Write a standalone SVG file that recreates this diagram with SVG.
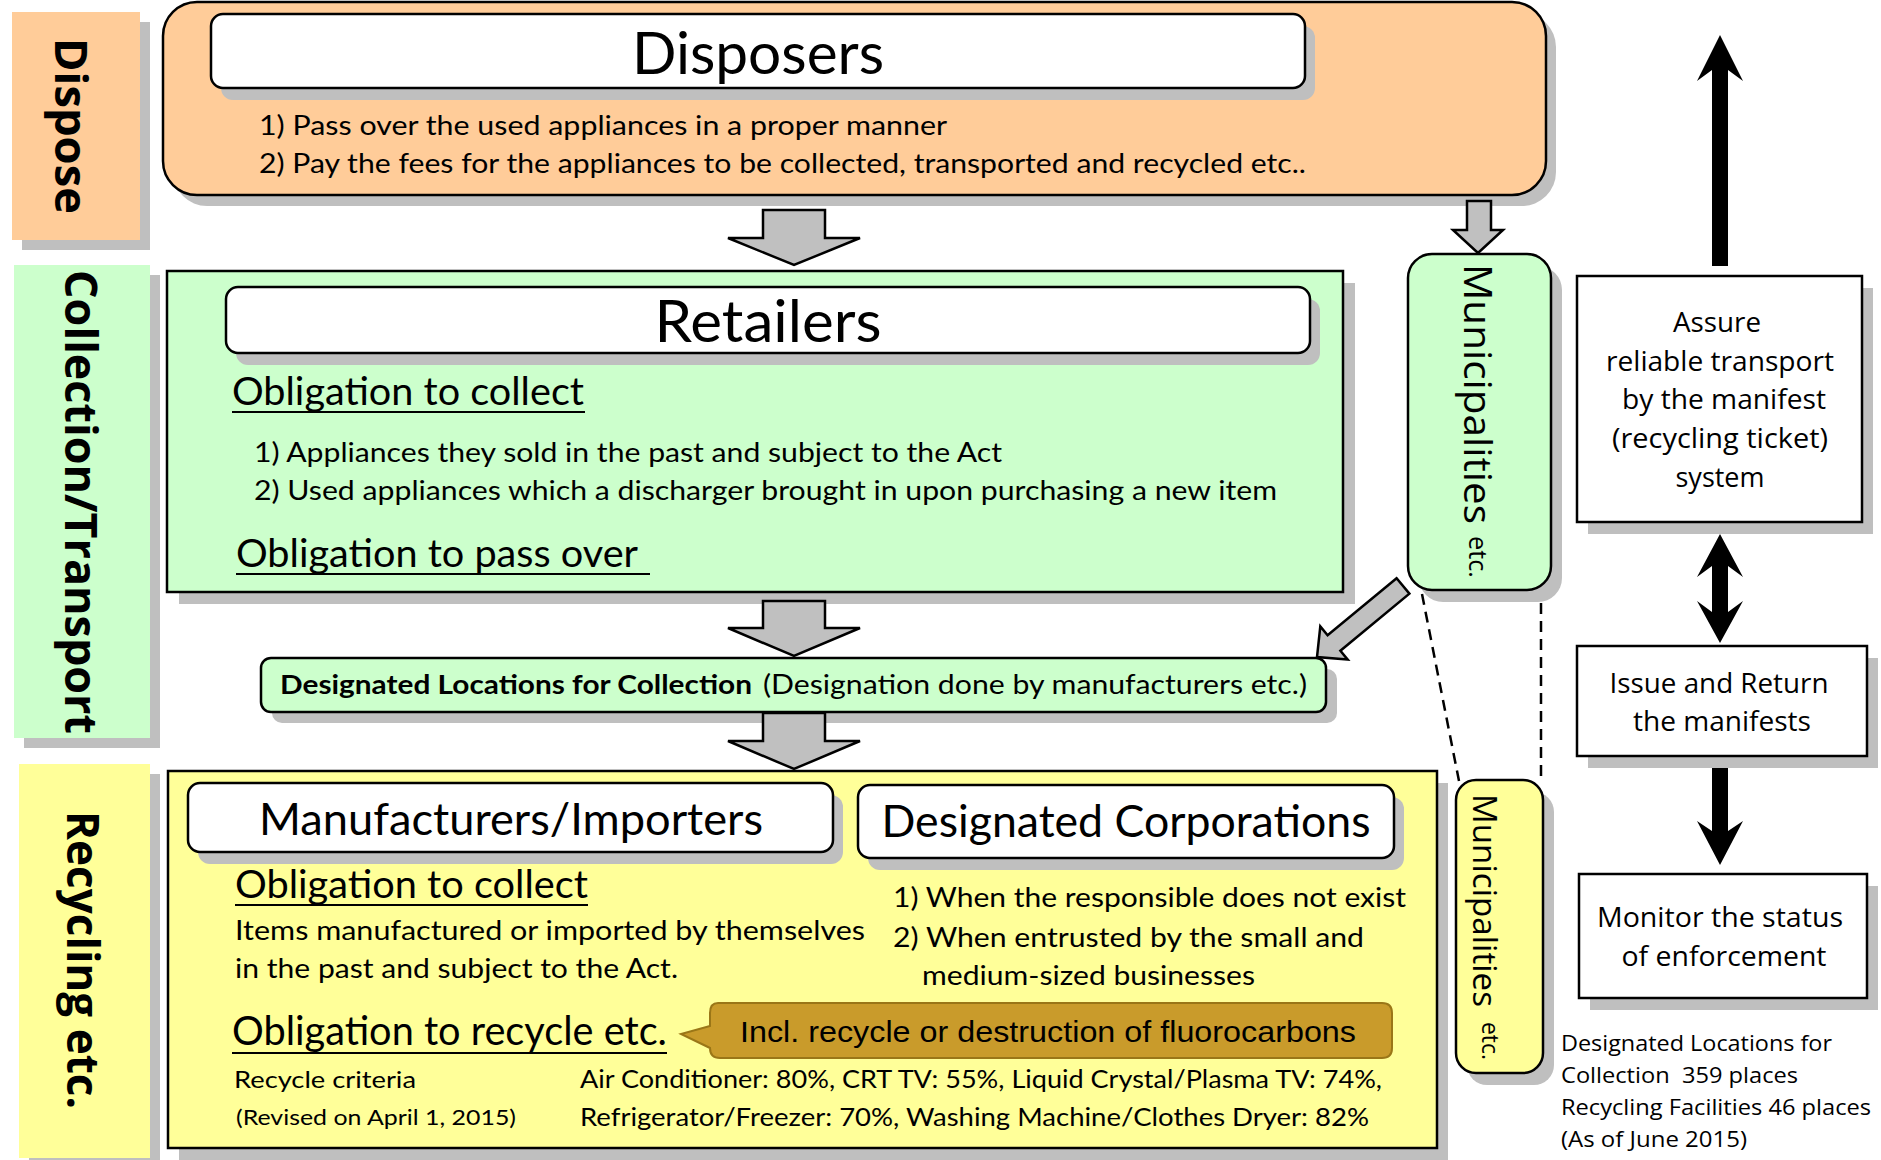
<svg xmlns="http://www.w3.org/2000/svg" width="1881" height="1160" viewBox="0 0 1881 1160">
<style>
.sh{fill:#BFBFBF}
.k{stroke:#000;stroke-width:2.5}
.t{font-family:Lato,"Open Sans",sans-serif;fill:#000}
.o{font-family:"Open Sans","DejaVu Sans",sans-serif;fill:#000}
.v{font-family:"Open Sans","DejaVu Sans",sans-serif;font-weight:bold;font-size:44px;fill:#000}
.ga{fill:#C0C0C0;stroke:#000;stroke-width:2.5;stroke-linejoin:miter}
.ul{stroke:#000;stroke-width:2}
.dash{stroke:#000;stroke-width:2.5;stroke-dasharray:11 7;fill:none}
.ba{fill:#000}
</style>
<rect width="1881" height="1160" fill="#fff"/>

<g id="label-dispose">
<rect class="sh" x="22" y="22" width="128" height="228"/>
<rect x="12" y="12" width="128" height="228" fill="#FFCC99"/>
<text class="v" transform="translate(70,126) rotate(90)" x="0" y="15" text-anchor="middle" textLength="176" lengthAdjust="spacingAndGlyphs">Dispose</text>
</g>
<g id="label-collection">
<rect class="sh" x="24" y="275" width="136" height="473"/>
<rect x="14" y="265" width="136" height="473" fill="#CCFFCC"/>
<text class="v" transform="translate(80,502) rotate(90)" x="0" y="15" text-anchor="middle" textLength="464" lengthAdjust="spacingAndGlyphs">Collection/Transport</text>
</g>
<g id="label-recycling">
<rect class="sh" x="29" y="774" width="131" height="394"/>
<rect x="19" y="764" width="131" height="394" fill="#FFFF99"/>
<text class="v" transform="translate(82,960) rotate(90)" x="0" y="15" text-anchor="middle" textLength="298" lengthAdjust="spacingAndGlyphs">Recycling etc.</text>
</g>

<g id="disposers">
<rect class="sh" x="173" y="13" width="1383" height="193" rx="34"/>
<rect class="k" x="163" y="2" width="1383" height="193" rx="34" fill="#FFCC99"/>
<rect class="sh" x="221" y="26" width="1094" height="74" rx="12"/>
<rect class="k" x="211" y="14" width="1094" height="74" rx="12" fill="#fff"/>
<text class="t" x="758" y="74" font-size="59" text-anchor="middle" textLength="252" lengthAdjust="spacingAndGlyphs">Disposers</text>
<text class="t" x="259" y="135" font-size="27" textLength="688" lengthAdjust="spacingAndGlyphs">1) Pass over the used appliances in a proper manner</text>
<text class="t" x="259" y="173" font-size="27" textLength="1047" lengthAdjust="spacingAndGlyphs">2) Pay the fees for the appliances to be collected, transported and recycled etc..</text>
</g>

<g id="retailers">
<rect class="sh" x="179" y="283" width="1176" height="321"/>
<rect class="k" x="167" y="271" width="1176" height="321" fill="#CCFFCC"/>
<rect class="sh" x="236" y="299" width="1084" height="66" rx="12"/>
<rect class="k" x="226" y="287" width="1084" height="66" rx="12" fill="#fff"/>
<text class="t" x="768" y="342" font-size="59" text-anchor="middle" textLength="227" lengthAdjust="spacingAndGlyphs">Retailers</text>
<text class="t" x="232" y="405" font-size="39" textLength="352" lengthAdjust="spacingAndGlyphs">Obligation to collect</text>
<line class="ul" x1="232" y1="412" x2="585" y2="412"/>
<text class="t" x="254" y="462" font-size="27" textLength="748" lengthAdjust="spacingAndGlyphs">1) Appliances they sold in the past and subject to the Act</text>
<text class="t" x="254" y="500" font-size="27" textLength="1023" lengthAdjust="spacingAndGlyphs">2) Used appliances which a discharger brought in upon purchasing a new item</text>
<text class="t" x="236" y="567" font-size="39" textLength="402" lengthAdjust="spacingAndGlyphs">Obligation to pass over</text>
<line class="ul" x1="236" y1="574" x2="650" y2="574"/>
</g>

<g id="designated-locations">
<rect class="sh" x="272" y="669" width="1065" height="54" rx="10"/>
<rect class="k" x="261" y="658" width="1065" height="54" rx="10" fill="#CCFFCC"/>
<text class="t" x="280" y="694" font-size="27" font-weight="bold" textLength="472" lengthAdjust="spacingAndGlyphs">Designated Locations for Collection</text>
<text class="t" x="763" y="694" font-size="27" textLength="544" lengthAdjust="spacingAndGlyphs">(Designation done by manufacturers etc.)</text>
</g>

<g id="municipalities-green">
<rect class="sh" x="1419" y="266" width="143" height="336" rx="24"/>
<rect class="k" x="1408" y="254" width="143" height="336" rx="24" fill="#CCFFCC"/>
<text class="o" transform="translate(1464,264) rotate(90)" x="0" y="0" font-size="39" textLength="260" lengthAdjust="spacingAndGlyphs">Municipalities</text>
<text class="o" transform="translate(1469,536) rotate(90)" x="0" y="0" font-size="25" textLength="42" lengthAdjust="spacingAndGlyphs">etc.</text>
</g>

<g id="recycling">
<rect class="sh" x="179" y="783" width="1269" height="377"/>
<rect class="k" x="168" y="771" width="1269" height="377" fill="#FFFF99"/>
<rect class="sh" x="198" y="795" width="645" height="69" rx="12"/>
<rect class="k" x="188" y="783" width="645" height="69" rx="12" fill="#fff"/>
<text class="t" x="511" y="835" font-size="44" text-anchor="middle" textLength="504" lengthAdjust="spacingAndGlyphs">Manufacturers/Importers</text>
<rect class="sh" x="868" y="797" width="536" height="73" rx="12"/>
<rect class="k" x="858" y="785" width="536" height="73" rx="12" fill="#fff"/>
<text class="t" x="1126" y="837" font-size="44" text-anchor="middle" textLength="489" lengthAdjust="spacingAndGlyphs">Designated Corporations</text>
<text class="t" x="235" y="898" font-size="39" textLength="353" lengthAdjust="spacingAndGlyphs">Obligation to collect</text>
<line class="ul" x1="235" y1="905" x2="588" y2="905"/>
<text class="t" x="235" y="940" font-size="27" textLength="630" lengthAdjust="spacingAndGlyphs">Items manufactured or imported by themselves</text>
<text class="t" x="235" y="978" font-size="27" textLength="443" lengthAdjust="spacingAndGlyphs">in the past and subject to the Act.</text>
<text class="t" x="893" y="907" font-size="27" textLength="513" lengthAdjust="spacingAndGlyphs">1) When the responsible does not exist</text>
<text class="t" x="893" y="947" font-size="27" textLength="471" lengthAdjust="spacingAndGlyphs">2) When entrusted by the small and</text>
<text class="t" x="922" y="985" font-size="27" textLength="333" lengthAdjust="spacingAndGlyphs">medium-sized businesses</text>
<text class="t" x="232" y="1045" font-size="40" textLength="435" lengthAdjust="spacingAndGlyphs">Obligation to recycle etc.</text>
<line class="ul" x1="232" y1="1053" x2="667" y2="1053"/>
<path d="M718,1003 H1382 Q1392,1003 1392,1013 V1048 Q1392,1058 1382,1058 H720 Q710,1058 710,1048 L681,1034 L710,1026 V1013 Q710,1003 718,1003 Z" fill="#C99B2B" stroke="#9A7617" stroke-width="2"/>
<text x="740" y="1042" font-family="'Liberation Sans',Arial,sans-serif" font-size="30" fill="#000" textLength="616" lengthAdjust="spacingAndGlyphs">Incl. recycle or destruction of fluorocarbons</text>
<text class="t" x="234" y="1088" font-size="24" textLength="182" lengthAdjust="spacingAndGlyphs">Recycle criteria</text>
<text class="t" x="236" y="1125" font-size="22" textLength="280" lengthAdjust="spacingAndGlyphs">(Revised on April 1, 2015)</text>
<text class="t" x="580" y="1088" font-size="25" textLength="802" lengthAdjust="spacingAndGlyphs">Air Conditioner: 80%, CRT TV: 55%, Liquid Crystal/Plasma TV: 74%,</text>
<text class="t" x="580" y="1126" font-size="25" textLength="789" lengthAdjust="spacingAndGlyphs">Refrigerator/Freezer: 70%, Washing Machine/Clothes Dryer: 82%</text>
</g>

<g id="municipalities-yellow">
<rect class="sh" x="1467" y="792" width="87" height="293" rx="20"/>
<rect class="k" x="1456" y="780" width="87" height="293" rx="20" fill="#FFFF99"/>
<text class="o" transform="translate(1473,794) rotate(90)" x="0" y="0" font-size="32" textLength="213" lengthAdjust="spacingAndGlyphs">Municipalities</text>
<text class="o" transform="translate(1482,1022) rotate(90)" x="0" y="0" font-size="23" textLength="38" lengthAdjust="spacingAndGlyphs">etc.</text>
</g>

<g id="assure">
<rect class="sh" x="1588" y="288" width="285" height="246"/>
<rect class="k" x="1577" y="276" width="285" height="246" fill="#fff"/>
<text class="o" font-size="27" x="1717" y="332" text-anchor="middle" textLength="88" lengthAdjust="spacingAndGlyphs">Assure</text>
<text class="o" font-size="27" x="1720" y="371" text-anchor="middle" textLength="228" lengthAdjust="spacingAndGlyphs">reliable transport</text>
<text class="o" font-size="27" x="1724" y="409" text-anchor="middle" textLength="204" lengthAdjust="spacingAndGlyphs">by the manifest</text>
<text class="o" font-size="27" x="1720" y="448" text-anchor="middle" textLength="216" lengthAdjust="spacingAndGlyphs">(recycling ticket)</text>
<text class="o" font-size="27" x="1720" y="487" text-anchor="middle" textLength="89" lengthAdjust="spacingAndGlyphs">system</text>
</g>

<g id="issue">
<rect class="sh" x="1588" y="658" width="290" height="110"/>
<rect class="k" x="1577" y="646" width="290" height="110" fill="#fff"/>
<text class="o" font-size="27" x="1719" y="693" text-anchor="middle" textLength="219" lengthAdjust="spacingAndGlyphs">Issue and Return</text>
<text class="o" font-size="27" x="1722" y="731" text-anchor="middle" textLength="178" lengthAdjust="spacingAndGlyphs">the manifests</text>
</g>

<g id="monitor">
<rect class="sh" x="1590" y="886" width="288" height="124"/>
<rect class="k" x="1579" y="874" width="288" height="124" fill="#fff"/>
<text class="o" font-size="28" x="1720" y="927" text-anchor="middle" textLength="246" lengthAdjust="spacingAndGlyphs">Monitor the status</text>
<text class="o" font-size="28" x="1724" y="966" text-anchor="middle" textLength="205" lengthAdjust="spacingAndGlyphs">of enforcement</text>
</g>

<g id="footnote">
<text class="o" font-size="22" x="1561" y="1051" textLength="271" lengthAdjust="spacingAndGlyphs">Designated Locations for</text>
<text class="o" font-size="22" x="1561" y="1083" textLength="237" lengthAdjust="spacingAndGlyphs" xml:space="preserve">Collection  359 places</text>
<text class="o" font-size="22" x="1561" y="1115" textLength="310" lengthAdjust="spacingAndGlyphs">Recycling Facilities 46 places</text>
<text class="o" font-size="22" x="1561" y="1147" textLength="186" lengthAdjust="spacingAndGlyphs">(As of June 2015)</text>
</g>

<g id="connectors">
<polygon class="ga" points="763,210 825,210 825,238 860,238 794,265 728,238 763,238"/>
<polygon class="ga" points="763,601 825,601 825,628 860,628 794,656 728,628 763,628"/>
<polygon class="ga" points="763,713 825,713 825,741 860,741 794,769 728,741 763,741"/>
<polygon class="ga" points="1467,201 1491,201 1491,230 1503,230 1478,253 1453,230 1467,230"/>
<polygon class="ga" points="1396.6,578.3 1327.6,635.3 1320.3,626.4 1317,657 1347.7,659.6 1340.4,650.7 1409.4,593.7"/>
<line class="dash" x1="1422" y1="594" x2="1459" y2="781"/>
<line class="dash" x1="1541" y1="603" x2="1541" y2="781"/>
<path class="ba" d="M1720,35 L1743,81 L1728,70 L1728,266 L1712,266 L1712,70 L1697,81 Z"/>
<path class="ba" d="M1720,534 L1743,577 L1728,566 L1728,612 L1743,601 L1720,643 L1697,601 L1712,612 L1712,566 L1697,577 Z"/>
<path class="ba" d="M1712,768 L1728,768 L1728,831 L1743,821 L1720,865 L1697,821 L1712,831 Z"/>
</g>
</svg>
